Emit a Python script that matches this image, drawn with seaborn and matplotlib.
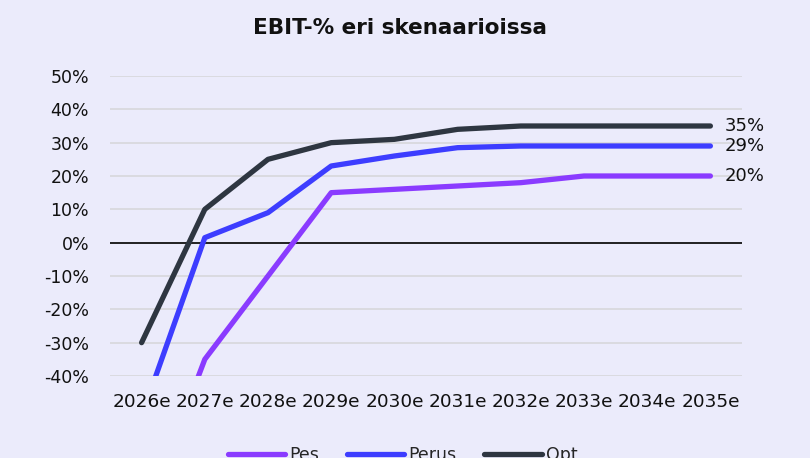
import matplotlib
matplotlib.use("Agg")
import matplotlib.pyplot as plt
import seaborn as sns
import pandas as pd

years = ["2026e", "2027e", "2028e", "2029e", "2030e", "2031e", "2032e", "2033e", "2034e", "2035e"]
pes = [-85, -35, -10, 15, 16, 17, 18, 20, 20, 20]
perus = [-52, 1.5, 9, 23, 26, 28.5, 29, 29, 29, 29]
opt = [-30, 10, 25, 30, 31, 34, 35, 35, 35, 35]
series_names = ["Pes", "Perus", "Opt"]
end_labels = ["20%", "29%", "35%"]
y_ticks = [-40, -30, -20, -10, 0, 10, 20, 30, 40, 50]

colors = {"Pes": "#8A3BFF", "Perus": "#3D3DFF", "Opt": "#2E3641"}
bg = "#EBEBFB"
fs = 12.5

df = pd.DataFrame({
    "Vuosi": years * 3,
    "EBIT": pes + perus + opt,
    "Skenaario": [n for n in series_names for _ in years],
})
df["x"] = df["Vuosi"].map({y: i for i, y in enumerate(years)})

sns.set_theme(style="white")
plt.rcParams["font.family"] = ["DejaVu Sans"]

fig = plt.figure(figsize=(8.1, 4.58), dpi=100, facecolor=bg)
ax = fig.add_axes([110 / 810, 1 - 376 / 458, (742 - 110) / 810, 300 / 458])
ax.set_facecolor(bg)

for y in y_ticks:
    if y != 0:
        ax.axhline(y, color="#D9D9DE", lw=1.3, zorder=0)
ax.axhline(0, color="#111111", lw=1.3, zorder=1)

sns.lineplot(data=df, x="x", y="EBIT", hue="Skenaario", palette=colors,
             hue_order=series_names, ax=ax, lw=3.8, legend=False,
             solid_capstyle="round", solid_joinstyle="round", zorder=3)

ax.set_xlim(-0.5, len(years) - 0.5)
ax.set_ylim(-40, 50)
ax.set_xticks(range(len(years)))
ax.set_xticklabels(years)
ax.set_yticks(y_ticks)
ax.set_yticklabels([f"{t}%" for t in y_ticks])
ax.tick_params(axis="both", length=0, labelsize=fs, colors="#111111")
ax.tick_params(axis="x", pad=12, labelsize=13.3)
ax.tick_params(axis="y", pad=15)
ax.set_xlabel("")
ax.set_ylabel("")
for s in ax.spines.values():
    s.set_visible(False)

last = [pes[-1], perus[-1], opt[-1]]
for val, lab in zip(last, end_labels):
    ax.annotate(lab, xy=(len(years) - 1, val), xytext=(10, 0),
                textcoords="offset points", va="center", ha="left",
                fontsize=13, color="#111111", annotation_clip=False)

fig.text(0.494, 1 - 28 / 458, "EBIT-% eri skenaarioissa", ha="center", va="center",
         fontsize=15.5, fontweight="bold", color="#111111")

handles = [plt.Line2D([0], [0], color=colors[n], lw=3.8, solid_capstyle="round")
           for n in series_names]
fig.legend(handles, series_names, loc="center", bbox_to_anchor=(0.497, 1 - 455 / 458),
           ncol=3, frameon=False, fontsize=fs, handlelength=3.3,
           handletextpad=0.25, columnspacing=1.6)

fig.savefig("out.png", dpi=100, facecolor=bg)
